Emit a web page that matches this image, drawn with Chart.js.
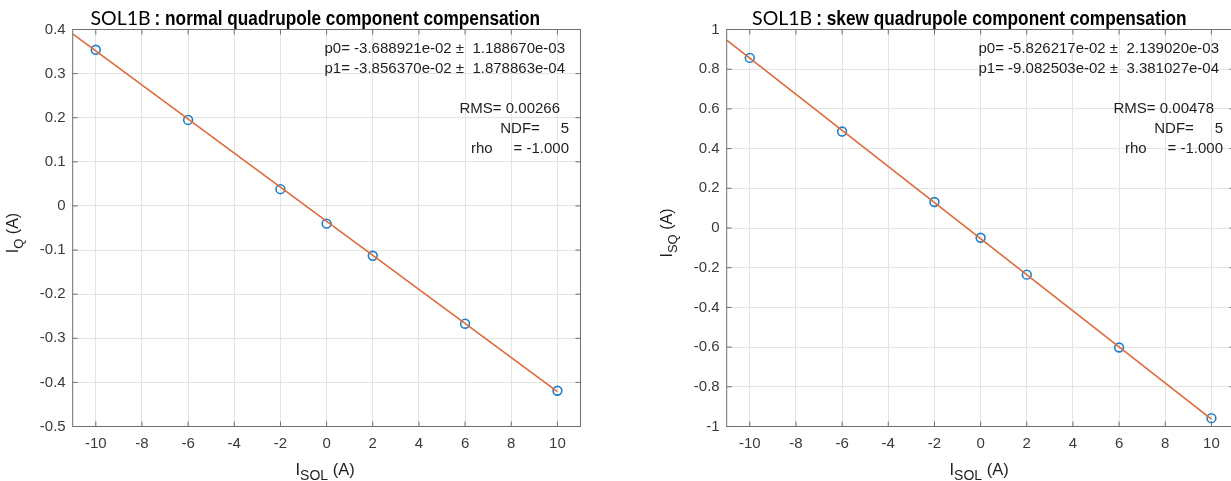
<!DOCTYPE html>
<html>
<head>
<meta charset="utf-8">
<script src="https://cdn.jsdelivr.net/npm/chart.js@4.4.1/dist/chart.umd.min.js"></script>
<style>
html,body{margin:0;padding:0;background:#ffffff;overflow:hidden;width:1231px;height:481px}
.wrap{position:absolute;top:0}
canvas{display:block}
</style>
</head>
<body>
<div class="wrap" style="left:0px"><canvas id="c1" width="615" height="481"></canvas></div>
<div class="wrap" style="left:615px"><canvas id="c2" width="640" height="481"></canvas></div>
<script>
// ---------- data ----------
const solCurrent = [-10, -6, -2, 0, 2, 6, 10];
const normalIQ = [0.354, 0.195, 0.038, -0.040, -0.113, -0.267, -0.419];
const skewISQ = [0.857, 0.486, 0.131, -0.049, -0.235, -0.602, -0.958];
const fitX = [-11, 10];
const normalFitY = [0.390, -0.421];
const skewFitY = [0.946, -0.963];
const xTickValues = [-10, -8, -6, -4, -2, 0, 2, 4, 6, 8, 10];
const normalYTicks = [-0.5, -0.4, -0.3, -0.2, -0.1, 0, 0.1, 0.2, 0.3, 0.4];
const skewYTicks = [-1, -0.8, -0.6, -0.4, -0.2, 0, 0.2, 0.4, 0.6, 0.8, 1];
const titlePrefix = 'SOL1B';
const normalTitle = ': normal quadrupole component compensation';
const skewTitle = ': skew quadrupole component compensation';
const normalFitLines = ['p0= -3.688921e-02 \u00b1  1.188670e-03', 'p1= -3.856370e-02 \u00b1  1.878863e-04'];
const skewFitLines = ['p0= -5.826217e-02 \u00b1  2.139020e-03', 'p1= -9.082503e-02 \u00b1  3.381027e-04'];
const normalRms = 'RMS= 0.00266';
const skewRms = 'RMS= 0.00478';
const ndfLine = 'NDF=     5';
const rhoLine = 'rho     = -1.000';
const xLabel = {main: 'I', sub: 'SOL', tail: ' (A)'};
const normalYLabel = {main: 'I', sub: 'Q', tail: ' (A)'};
const skewYLabel = {main: 'I', sub: 'SQ', tail: ' (A)'};

// ---------- style ----------
const FONT = '"Liberation Sans", Arial, sans-serif';
const BLUE = '#1f7fc6';
const ORANGE = '#dd6a3a';
const GRID = '#e4e4e4';
const AXIS = '#6e6e6e';
const TICK = '#3a3a3a';
const TXT = '#1e1e1e';

function hasFont(name) {
  const c = document.createElement('canvas').getContext('2d');
  const s = 'normal quadrupole component';
  c.font = 'bold 40px monospace';
  const a = c.measureText(s).width;
  c.font = 'bold 40px "' + name + '", monospace';
  return Math.abs(c.measureText(s).width - a) > 0.5;
}
const narrowOk = hasFont('Liberation Sans Narrow');
const boldFont = narrowOk ? 'bold 21px "Liberation Sans Narrow"' : 'bold 21px "Liberation Sans", Arial';
const boldScale = narrowOk ? 1 : 0.82;
const prefixFont = '19.5px Lato, "Open Sans", sans-serif';

// draws label with baseline at (bx, by) in rotated/unrotated frame, centred along the text direction
function drawLabel(ctx, lab, bx, by, rotate, mainSize, subSize, subDrop) {
  const mainF = mainSize + 'px ' + FONT, subF = subSize + 'px ' + FONT;
  ctx.save();
  ctx.translate(bx, by);
  if (rotate) ctx.rotate(-Math.PI / 2);
  ctx.font = mainF; const w1 = ctx.measureText(lab.main).width;
  ctx.font = subF; const w2 = ctx.measureText(lab.sub).width;
  ctx.font = mainF; const w3 = ctx.measureText(lab.tail).width;
  let x = -(w1 + w2 + w3) / 2;
  ctx.fillStyle = TXT;
  ctx.textBaseline = 'alphabetic';
  ctx.textAlign = 'left';
  ctx.font = mainF; ctx.fillText(lab.main, x, 0); x += w1;
  ctx.font = subF; ctx.fillText(lab.sub, x, subDrop); x += w2;
  ctx.font = mainF; ctx.fillText(lab.tail, x, 0);
  ctx.restore();
}

function framePlugin(p) {
  return {
    id: 'frame',
    afterDraw(chart) {
      const ctx = chart.ctx, a = chart.chartArea;
      const xs = chart.scales.x, ys = chart.scales.y;
      ctx.save();
      // box
      ctx.strokeStyle = AXIS; ctx.lineWidth = 1;
      ctx.strokeRect(a.left, a.top, a.right - a.left, a.bottom - a.top);
      // inward ticks
      ctx.beginPath();
      xTickValues.forEach(v => {
        const px = xs.getPixelForValue(v);
        ctx.moveTo(px, a.bottom); ctx.lineTo(px, a.bottom - 5);
        ctx.moveTo(px, a.top); ctx.lineTo(px, a.top + 5);
      });
      p.yTicks.forEach(v => {
        const py = ys.getPixelForValue(v);
        ctx.moveTo(a.left, py); ctx.lineTo(a.left + 5, py);
        ctx.moveTo(a.right, py); ctx.lineTo(a.right - 5, py);
      });
      ctx.stroke();

      // title
      ctx.font = prefixFont;
      const w1 = ctx.measureText(titlePrefix).width;
      ctx.font = boldFont;
      const w2 = ctx.measureText(p.title).width * boldScale;
      const total = w1 + 4 + w2;
      const start = (a.left + a.right) / 2 - 11.3 - total / 2;
      ctx.fillStyle = '#000';
      ctx.textBaseline = 'alphabetic';
      ctx.textAlign = 'left';
      ctx.font = prefixFont;
      ctx.fillText(titlePrefix, start, 25);
      ctx.save();
      ctx.translate(start + w1 + 4, 25);
      ctx.scale(boldScale, 1);
      ctx.font = boldFont;
      ctx.fillText(p.title, 0, 0);
      ctx.restore();

      // fit annotation
      ctx.font = '15px ' + FONT;
      ctx.fillStyle = TXT;
      ctx.textAlign = 'right';
      ctx.textBaseline = 'middle';
      ctx.fillText(p.fitLines[0], a.right - 15.5, 49);
      ctx.fillText(p.fitLines[1], a.right - 15.5, 69);
      ctx.fillText(p.rms, a.right - 20.5, 108.5);
      ctx.fillText(ndfLine, a.right - 11.5, 128.5);
      ctx.fillText(rhoLine, a.right - 11.5, 148.5);

      // axis labels
      drawLabel(ctx, xLabel, (a.left + a.right) / 2 - 1.5, 475, false, 16.5, 14, 5);
      drawLabel(ctx, p.yLabel, a.left - 54.7, (a.top + a.bottom) / 2 + 5, true, 16, 13, 4.5);
      ctx.restore();
    }
  };
}

function makeChart(id, p) {
  return new Chart(document.getElementById(id), {
    type: 'scatter',
    data: {
      datasets: [
        {
          data: fitX.map((x, i) => ({x: x, y: p.fit[i]})),
          showLine: true, borderColor: ORANGE, borderWidth: 1.6,
          pointRadius: 0, fill: false
        },
        {
          data: solCurrent.map((x, i) => ({x: x, y: p.y[i]})),
          showLine: false, pointStyle: 'circle', pointRadius: 4.4,
          pointBorderColor: BLUE, pointBackgroundColor: 'rgba(0,0,0,0)',
          pointBorderWidth: 1.6, borderColor: BLUE, backgroundColor: 'rgba(0,0,0,0)'
        }
      ]
    },
    options: {
      responsive: false, animation: false, events: [],
      layout: {padding: {top: 29.5, right: p.padRight, bottom: 0, left: 0}},
      plugins: {legend: {display: false}, tooltip: {enabled: false}, title: {display: false}},
      scales: {
        x: {
          type: 'linear', min: -11, max: 11,
          afterBuildTicks: s => { s.ticks = xTickValues.map(v => ({value: v})); },
          afterFit: s => { s.height = 54.5; },
          grid: {color: GRID, drawTicks: false, lineWidth: 1},
          border: {display: false},
          ticks: {padding: 8, color: TICK, font: {family: FONT, size: 15}, maxRotation: 0, minRotation: 0, autoSkip: false, callback: v => String(v)}
        },
        y: {
          type: 'linear', min: p.ymin, max: p.ymax,
          afterBuildTicks: s => { s.ticks = p.yTicks.map(v => ({value: v})); },
          afterFit: s => { s.width = p.left; },
          grid: {color: GRID, drawTicks: false, lineWidth: 1},
          border: {display: false},
          ticks: {padding: 7, color: TICK, font: {family: FONT, size: 15}, autoSkip: false, callback: v => String(v)}
        }
      }
    },
    plugins: [framePlugin(p)]
  });
}

makeChart('c1', {
  y: normalIQ, fit: normalFitY, ymin: -0.5, ymax: 0.4, yTicks: normalYTicks,
  title: normalTitle, fitLines: normalFitLines, rms: normalRms, yLabel: normalYLabel,
  left: 72.7, padRight: 615 - 580.5
});
makeChart('c2', {
  y: skewISQ, fit: skewFitY, ymin: -1, ymax: 1, yTicks: skewYTicks,
  title: skewTitle, fitLines: skewFitLines, rms: skewRms, yLabel: skewYLabel,
  left: 111.7, padRight: 640 - 619.5
});
</script>
</body>
</html>
